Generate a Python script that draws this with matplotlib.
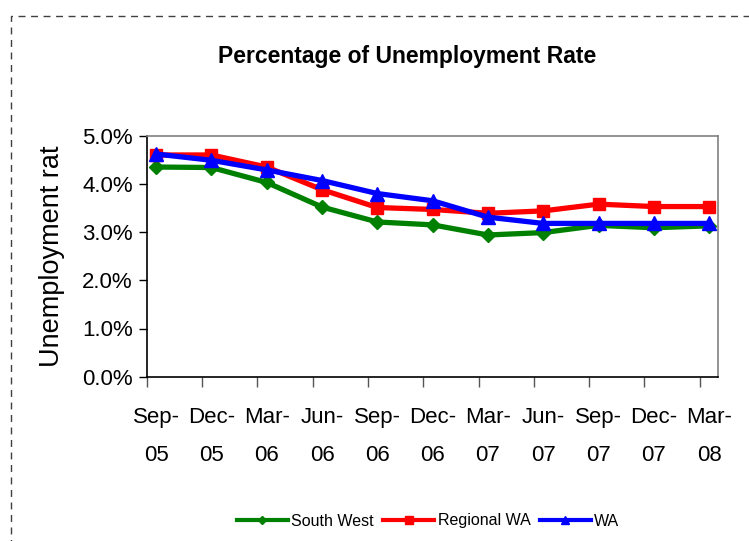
import matplotlib
matplotlib.use("Agg")
import matplotlib.pyplot as plt
from matplotlib.patches import Rectangle
from matplotlib.ticker import FixedLocator, FuncFormatter

plt.rcParams['font.family'] = ['Liberation Sans', 'DejaVu Sans']

categories = ["Sep-\n05", "Dec-\n05", "Mar-\n06", "Jun-\n06", "Sep-\n06", "Dec-\n06",
              "Mar-\n07", "Jun-\n07", "Sep-\n07", "Dec-\n07", "Mar-\n08"]
south_west = [4.35, 4.34, 4.03, 3.52, 3.21, 3.15, 2.94, 2.99, 3.14, 3.09, 3.13]
regional_wa = [4.60, 4.60, 4.35, 3.88, 3.51, 3.47, 3.39, 3.44, 3.58, 3.53, 3.53]
wa = [4.62, 4.49, 4.29, 4.07, 3.80, 3.65, 3.31, 3.18, 3.18, 3.18, 3.18]
y_ticks = [0, 1, 2, 3, 4, 5]

fig = plt.figure(figsize=(7.49, 5.41), dpi=100)
fig.patch.set_facecolor('white')

# dashed outer border
border = Rectangle((11 / 749, -0.05), 1.2, (541 - 16) / 541 + 0.05, transform=fig.transFigure,
                   fill=False, edgecolor='#404040', linestyle=(0, (5, 4)), linewidth=1.0)
fig.patches.append(border)

ax = fig.add_axes([146.7 / 749, (541 - 376.7) / 541, (718 - 146.7) / 749, (376.7 - 135.7) / 541])

x = list(range(len(categories)))
ax.plot(x, south_west, color='#008000', linewidth=3.8, marker='D', markersize=7.5, label='South West', zorder=3)
ax.plot(x, regional_wa, color='#FF0000', linewidth=3.8, marker='s', markersize=8.5, label='Regional WA', zorder=4)
ax.plot(x, wa, color='#0000FF', linewidth=3.8, marker='^', markersize=9.5, label='WA', zorder=5)

off = 0.17
ax.set_xlim(-off, len(categories) - 1 + 0.16)
ax.set_ylim(0, 5)
ax.xaxis.set_major_locator(FixedLocator(x))
ax.set_xticklabels(categories, fontsize=16, linespacing=2.05)
ax.xaxis.set_minor_locator(FixedLocator([i - off for i in x]))
ax.tick_params(axis='x', which='major', length=0, pad=22)
ax.tick_params(axis='x', which='minor', length=7, width=1.0, direction='out', color='#555555')
ax.set_yticks(y_ticks)
ax.yaxis.set_major_formatter(FuncFormatter(lambda v, p: f"{v:.1f}%"))
ax.tick_params(axis='y', labelsize=16, length=6, width=1.0, direction='out', pad=4)

for s in ['left', 'bottom']:
    ax.spines[s].set_color('black')
    ax.spines[s].set_linewidth(1.2)
for s in ['top', 'right']:
    ax.spines[s].set_color('#808080')
    ax.spines[s].set_linewidth(1.2)

ax.set_ylabel("Unemployment rat", fontsize=19.5, labelpad=12)

fig.text(407 / 749, 1 - 57 / 541, "Percentage of Unemployment Rate", ha='center', va='center',
         fontsize=16.5, fontweight='bold')

leg = fig.legend(loc='center', bbox_to_anchor=(428 / 749, 1 - 521 / 541), ncol=3, frameon=False,
                 fontsize=11.5, handlelength=3.2, handletextpad=0.2, columnspacing=0.6, markerscale=0.6)
for line in leg.get_lines():
    line.set_linewidth(3)

fig.savefig("out.png", dpi=100)
